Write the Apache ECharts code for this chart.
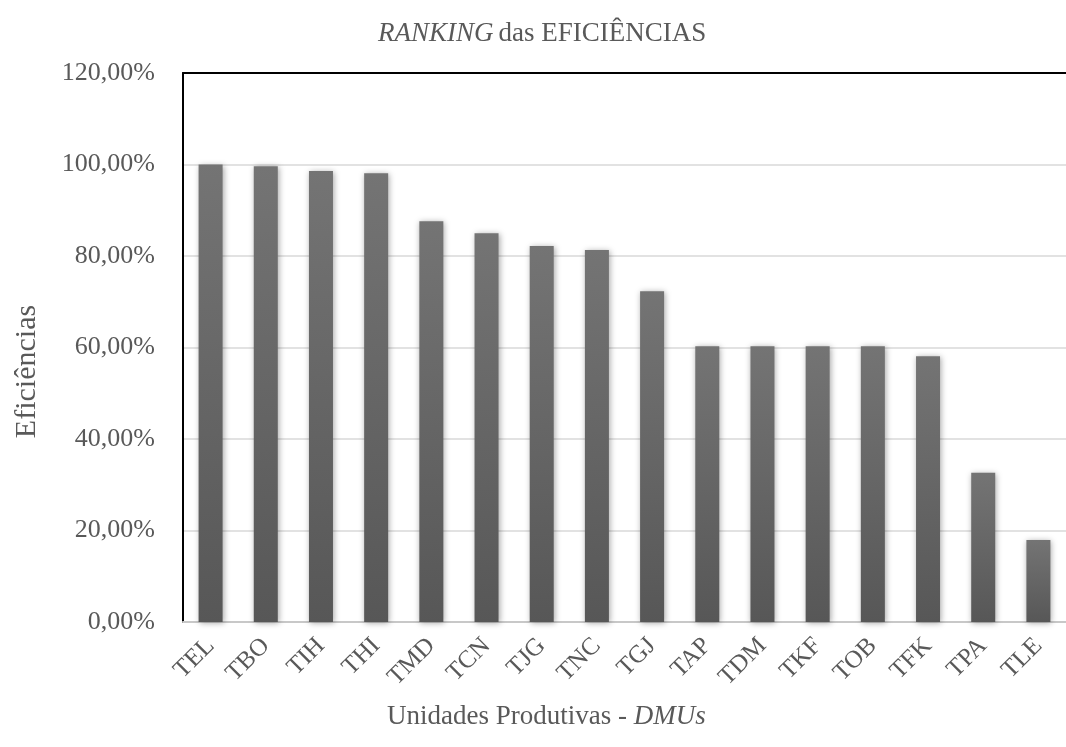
<!DOCTYPE html>
<html><head><meta charset="utf-8">
<script src="https://cdn.jsdelivr.net/npm/echarts@6/dist/echarts.min.js"></script>
<style>html,body{margin:0;padding:0;background:#fff}#c{width:1066px;height:747px}</style>
</head><body><div id="c"></div>
<script>
const categories = ['TEL','TBO','TIH','THI','TMD','TCN','TJG','TNC','TGJ','TAP','TDM','TKF','TOB','TFK','TPA','TLE'];
const efficiencies = [100.0, 99.6, 98.6, 98.1, 87.6, 85.0, 82.2, 81.3, 72.3, 60.3, 60.3, 60.3, 60.3, 58.1, 32.6, 17.9];
const yTicks = {min: 0, max: 120, interval: 20};

const FONT = '"Liberation Serif", "Times New Roman", serif';
const GREY = '#595959';
const chart = echarts.init(document.getElementById('c'));
chart.setOption({
  animation: false,
  title: [
    {text: '{i|RANKING} {n|das EFICIÊNCIAS}', left: 373, top: 15,
     textStyle: {fontWeight: 'normal', rich: {
       i: {fontFamily: FONT, fontSize: 27, fontStyle: 'italic', fontWeight: 'normal', color: GREY},
       n: {fontFamily: FONT, fontSize: 27, fontWeight: 'normal', color: GREY}}}},
    {text: '{n|Unidades Produtivas - }{i|DMUs}', left: 382, top: 698,
     textStyle: {fontWeight: 'normal', rich: {
       i: {fontFamily: FONT, fontSize: 27, fontStyle: 'italic', fontWeight: 'normal', color: GREY},
       n: {fontFamily: FONT, fontSize: 27, fontWeight: 'normal', color: GREY}}}}
  ],
  grid: {left: 183, right: -10, top: 73, bottom: 125, containLabel: false},
  xAxis: [{
    type: 'category', data: categories,
    axisLine: {lineStyle: {color: '#c8c8c8', width: 2}},
    axisTick: {show: false},
    axisLabel: {rotate: 45, margin: 20, padding: [10, 0, 0, 0], fontFamily: FONT, fontSize: 25, color: GREY, interval: 0}
  }, {
    type: 'category', data: categories, position: 'top',
    axisLine: {lineStyle: {color: '#000', width: 2}},
    axisTick: {show: false}, axisLabel: {show: false}
  }],
  yAxis: {
    type: 'value', min: yTicks.min, max: yTicks.max, interval: yTicks.interval,
    name: 'Eficiências', nameLocation: 'middle', nameRotate: 90, nameGap: 141,
    nameTextStyle: {fontFamily: FONT, fontSize: 30, color: GREY, padding: [0, 48, 0, 0]},
    axisLine: {show: true, lineStyle: {color: '#000', width: 2}},
    axisTick: {show: false},
    axisLabel: {margin: 28, fontFamily: FONT, fontSize: 26, color: GREY,
      formatter: v => v.toFixed(2).replace('.', ',') + '%'},
    splitLine: {lineStyle: {color: '#d9d9d9', width: 1.5}}
  },
  series: [{
    type: 'bar', data: efficiencies, barWidth: 24,
    itemStyle: {
      color: new echarts.graphic.LinearGradient(0, 0, 0, 1, [
        {offset: 0, color: '#747474'}, {offset: 1, color: '#575757'}]),
      shadowBlur: 6, shadowColor: 'rgba(0,0,0,0.35)', shadowOffsetX: 1, shadowOffsetY: 1
    }
  }]
});
</script></body></html>
